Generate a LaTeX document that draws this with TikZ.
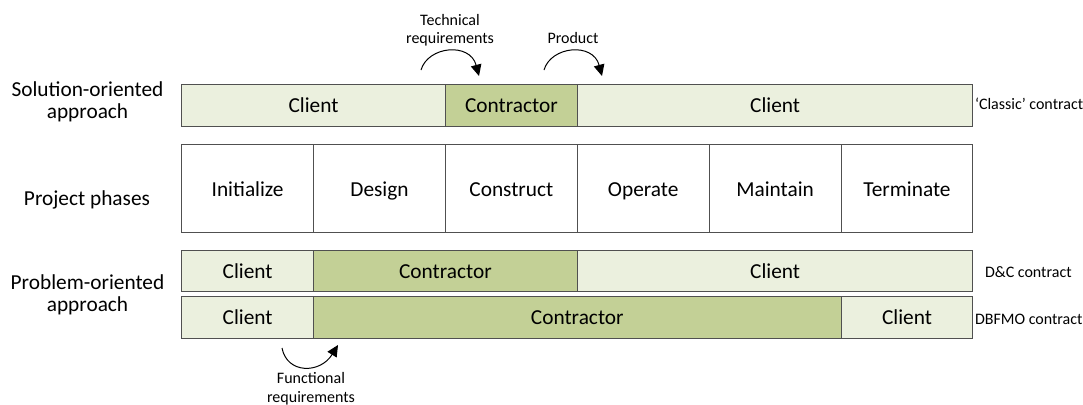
\documentclass[tikz,border=0pt]{standalone}
\usepackage{fontspec}
\setmainfont{Carlito}
\usetikzlibrary{calc,positioning,arrows.meta}
\definecolor{clientfill}{RGB}{235,240,222}
\definecolor{contrfill}{RGB}{195,208,150}
\definecolor{boxline}{RGB}{80,80,80}
\newlength{\colw}\setlength{\colw}{98.9pt}
\newlength{\rowh}\setlength{\rowh}{31.3pt}
\tikzstyle{clblock} = [draw=boxline, fill=clientfill, rectangle,
    minimum height=\rowh, text height=12.5pt, text depth=1pt]
\tikzstyle{coblock} = [draw=boxline, fill=contrfill, rectangle,
    minimum height=\rowh, text height=12.5pt, text depth=1pt]
\tikzstyle{phblock} = [draw=boxline, fill=white, rectangle,
    minimum height=66pt, minimum width=\colw, text height=12.5pt, text depth=1pt]
\tikzstyle{side} = [font=\fontsize{16pt}{16.5pt}\selectfont, align=center]
\tikzstyle{note} = [font=\fontsize{12pt}{13.7pt}\selectfont, align=center]

\begin{document}
\begin{tikzpicture}[x=0.75pt, y=-0.75pt, line width=0.75pt,
    >={Triangle[length=8.5pt,width=8pt]}, font=\fontsize{16pt}{19pt}\selectfont,
    every node/.style={inner sep=0pt, outer sep=0pt}]
\useasboundingbox (0,0) rectangle (1083,404);

% solution-oriented row
\node (solcl1) [clblock, minimum width=2\colw, anchor=west] at (181.7,105.2) {Client};
\node (solco) [coblock, minimum width=\colw, right=0pt of solcl1] {Contractor};
\node (solcl2) [clblock, minimum width=3\colw, right=0pt of solco] {Client};

% project phases
\node (init) [phblock, anchor=west] at (181.7,188.4) {Initialize};
\node (design) [phblock, right=0pt of init] {Design};
\node (constr) [phblock, right=0pt of design] {Construct};
\node (oper) [phblock, right=0pt of constr] {Operate};
\node (maint) [phblock, right=0pt of oper] {Maintain};
\node (term) [phblock, right=0pt of maint] {Terminate};

% problem-oriented rows
\node (dccl1) [clblock, minimum width=\colw, anchor=west] at (181.7,271) {Client};
\node (dcco) [coblock, minimum width=2\colw, right=0pt of dccl1] {Contractor};
\node (dccl2) [clblock, minimum width=3\colw, right=0pt of dcco] {Client};

\node (dbcl1) [clblock, minimum width=\colw, anchor=west] at (181.7,317.3) {Client};
\node (dbco) [coblock, minimum width=4\colw, right=0pt of dbcl1] {Contractor};
\node (dbcl2) [clblock, minimum width=\colw, right=0pt of dbco] {Client};

% left labels
\node (sollab) [side] at (87.5,101.5) {Solution-oriented\\approach};
\node (phlab) [side] at (87,199.5) {Project phases};
\node (problab) [side] at (87.5,294.5) {Problem-oriented\\approach};

% contract labels
\node (classic) [note, anchor=west] at (975,103.5) {‘Classic’ contract};
\node (dc) [note, anchor=west] at (985,272) {D\&C contract};
\node (dbfmo) [note, anchor=west] at (975,319) {DBFMO contract};

% hand-over arrows
\node (treq) [note] at (450,30.5) {Technical\\requirements};
\node (prod) [note] at (573,38) {Product};
\node (freq) [note] at (311,388.7) {Functional\\requirements};
\coordinate (treqa) at (421,70);
\coordinate (treqb) at (479,76);
\coordinate (proda) at (544,70);
\coordinate (prodb) at (602,76);
\coordinate (freqa) at (282,348);
\coordinate (freqb) at (338,345);
\draw[->] (treqa) .. controls (428,46) and (470,42) .. (treqb);
\draw[->] (proda) .. controls (551,46) and (593,42) .. (prodb);
\draw[->] (freqa) .. controls (287,374) and (320,374) .. (freqb);

\end{tikzpicture}
\end{document}
